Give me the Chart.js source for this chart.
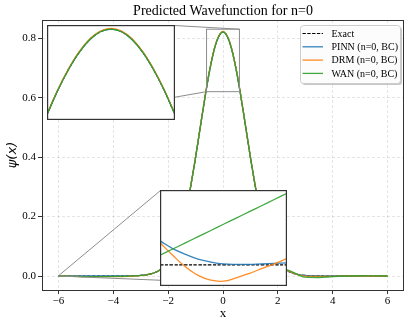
<!DOCTYPE html>
<html>
<head>
<meta charset="utf-8">
<script src="https://cdn.jsdelivr.net/npm/chart.js@4.4.0/dist/chart.umd.min.js"></script>
<style>
  body { margin: 0; background: #fff; }
  #wrap { position: relative; width: 410px; height: 327px; }
  canvas { position: absolute; }
  .inset { background: #fff; }
</style>
</head>
<body>
<div id="wrap">
  <canvas id="main" width="410" height="327" style="left:0;top:0"></canvas>
  <canvas id="zoomPeak" class="inset" width="128" height="95" style="left:47px;top:25px"></canvas>
  <canvas id="zoomEdge" class="inset" width="127" height="96" style="left:160px;top:190px"></canvas>
</div>
<script>
// ---- data ----
const labels = ['Exact', 'PINN (n=0, BC)', 'DRM (n=0, BC)', 'WAN (n=0, BC)'];

const xs = [-6, -5.5, -5, -4.5, -4, -3.5, -3, -2.75, -2.5, -2.25, -2, -1.75, -1.5, -1.25, -1, -0.75, -0.5, -0.25,
  0, 0.25, 0.5, 0.75, 1, 1.25, 1.5, 1.75, 2, 2.25, 2.5, 2.75, 3, 3.5, 4, 4.5, 5, 5.5, 6];
const exact = [0, 0, 0, 0, 0, 0.0003, 0.002, 0.005, 0.011, 0.024, 0.048, 0.092, 0.163, 0.266, 0.399, 0.547, 0.685, 0.784,
  0.821, 0.784, 0.685, 0.547, 0.399, 0.266, 0.163, 0.092, 0.048, 0.024, 0.011, 0.005, 0.002, 0.0003, 0, 0, 0, 0, 0];
const pinn = [0, 0, 0, 0, 0, 0.0003, 0.002, 0.005, 0.011, 0.024, 0.048, 0.092, 0.163, 0.266, 0.399, 0.547, 0.685, 0.784,
  0.821, 0.784, 0.685, 0.547, 0.399, 0.266, 0.163, 0.092, 0.048, 0.024, 0.011, 0.005, 0.002, 0.0003, 0, 0, 0, 0, 0];
const drm = [0, -0.001, -0.002, -0.002, -0.002, -0.001, 0.001, 0.005, 0.011, 0.024, 0.048, 0.092, 0.163, 0.267, 0.400, 0.548, 0.687, 0.786,
  0.823, 0.786, 0.687, 0.548, 0.400, 0.267, 0.163, 0.092, 0.048, 0.024, 0.012, 0.004, 0.000, -0.001, -0.001, 0, 0, 0, 0];
const wan = [0, -0.001, -0.002, -0.002, -0.0015, -0.0005, 0.002, 0.005, 0.011, 0.024, 0.048, 0.092, 0.163, 0.266, 0.399, 0.547, 0.685, 0.784,
  0.821, 0.784, 0.685, 0.547, 0.399, 0.266, 0.163, 0.092, 0.048, 0.025, 0.015, 0.004, -0.004, -0.005, -0.002, 0, 0.001, 0.0005, 0];

// zoom near the peak
const xsPeak = [-0.6, -0.5, -0.4, -0.3, -0.2, -0.1, 0, 0.1, 0.2, 0.3, 0.4, 0.5, 0.6];
const exactPeak = [0.632, 0.685, 0.731, 0.769, 0.7975, 0.815, 0.821, 0.815, 0.7975, 0.769, 0.731, 0.685, 0.632];
const pinnPeak = [0.632, 0.685, 0.731, 0.769, 0.7975, 0.815, 0.821, 0.815, 0.7975, 0.769, 0.731, 0.685, 0.632];
const drmPeak = [0.6335, 0.6865, 0.7325, 0.7705, 0.799, 0.8165, 0.8225, 0.8165, 0.799, 0.7705, 0.7325, 0.6865, 0.6335];
const wanPeak = [0.632, 0.685, 0.731, 0.769, 0.7975, 0.815, 0.821, 0.815, 0.7975, 0.769, 0.731, 0.685, 0.632];

// zoom at the left boundary x = -6
const xsEdge = [-6, -5.995, -5.99, -5.985, -5.98, -5.975, -5.97, -5.965, -5.96, -5.955, -5.95];
const exactEdge = [0, 0, 0, 0, 0, 0, 0, 0, 0, 0, 0];
const pinnEdge = [0.00025, 0.00017, 0.00011, 0.00006, 0.00003, 0.00001, 0.000005, 0.000005, 0.00001, 0.000015, 0.00002];
const drmEdge = [0.00023, 0.0001, -0.00002, -0.00011, -0.00016, -0.00017, -0.000135, -0.00009, -0.00004, 0.00001, 0.000065];
const wanEdge = [0.0001, 0.000165, 0.000229, 0.000294, 0.000358, 0.000423, 0.000487, 0.000552, 0.000616, 0.000681, 0.000745];

const peakXlim = [-0.6, 0.6], peakYlim = [0.62, 0.83];
const edgeXlim = [-6, -5.95], edgeYlim = [-0.00022, 0.00078];

const xTicks = [-6, -4, -2, 0, 2, 4, 6];
const yTicks = [0, 0.2, 0.4, 0.6, 0.8];

// ---- styles ----
const colors = ['#000000', 'rgba(31,119,180,0.9)', 'rgba(255,127,14,0.9)', 'rgba(44,160,44,0.9)'];
const serif = 'Liberation Serif';
const gridColor = 'rgba(0,0,0,0.13)';

// inset boxes in page pixels (where the inset canvases sit)
const peakBox = { left: 47, top: 25, w: 128, h: 95 };
const edgeBox = { left: 160, top: 190, w: 127, h: 96 };

function pts(x, y) {
  return x.map((v, i) => ({ x: v, y: y[i] }));
}

function makeSets(x, series, interp) {
  return series.map((s, i) => ({
    label: labels[i],
    data: pts(x, s),
    borderColor: colors[i],
    borderWidth: i == 0 ? 1.2 : 1.3,
    borderDash: i == 0 ? [3.3, 1.5] : [],
    order: 3 - i,
    pointRadius: 0,
    fill: false,
    tension: 0.4,
    cubicInterpolationMode: interp || 'monotone'
  }));
}

// frame, zoom rectangles, connector lines, title
const framePlugin = {
  id: 'frame',
  afterDatasetsDraw(chart) {
    const { ctx, chartArea: a, scales } = chart;
    const X = v => scales.x.getPixelForValue(v), Y = v => scales.y.getPixelForValue(v);
    ctx.save();
    ctx.strokeStyle = '#8c8c8c';
    ctx.lineWidth = 1;
    ctx.strokeRect(X(peakXlim[0]), Y(peakYlim[1]), X(peakXlim[1]) - X(peakXlim[0]), Y(peakYlim[0]) - Y(peakYlim[1]));
    ctx.strokeRect(X(edgeXlim[0]), Y(edgeYlim[1]), X(edgeXlim[1]) - X(edgeXlim[0]), Y(edgeYlim[0]) - Y(edgeYlim[1]));
    ctx.beginPath();
    ctx.moveTo(X(peakXlim[1]), Y(peakYlim[1]));
    ctx.lineTo(peakBox.left + peakBox.w - 0.5, peakBox.top + 0.5);
    ctx.moveTo(X(peakXlim[0]), Y(peakYlim[0]));
    ctx.lineTo(peakBox.left + 0.5, peakBox.top + peakBox.h - 0.5);
    ctx.moveTo(X(edgeXlim[0]), Y(edgeYlim[1]));
    ctx.lineTo(edgeBox.left + 0.5, edgeBox.top + 0.5);
    ctx.moveTo(X(edgeXlim[1]), Y(edgeYlim[0]));
    ctx.lineTo(edgeBox.left + edgeBox.w - 0.5, edgeBox.top + edgeBox.h - 0.5);
    ctx.stroke();
    // axes frame
    ctx.strokeStyle = '#333';
    ctx.strokeRect(Math.round(a.left) + 0.5, Math.round(a.top) + 0.5, Math.round(a.width) - 1, Math.round(a.height));
    // title
    ctx.fillStyle = '#000';
    ctx.font = '14px "' + serif + '"';
    ctx.textAlign = 'center';
    ctx.textBaseline = 'middle';
    ctx.fillText('Predicted Wavefunction for n=0', (a.left + a.right) / 2, 11);
    ctx.restore();
  }
};

// matplotlib-like legend in the upper right
const legendPlugin = {
  id: 'mplLegend',
  afterDraw(chart) {
    const ctx = chart.ctx;
    const x = 300, y = 25, w = 100, h = 58;
    ctx.save();
    ctx.fillStyle = 'rgba(0,0,0,0.22)';
    ctx.beginPath(); ctx.roundRect(x + 2, y + 2, w, h, 3); ctx.fill();
    ctx.fillStyle = 'rgba(255,255,255,0.95)';
    ctx.strokeStyle = '#cccccc';
    ctx.lineWidth = 1;
    ctx.beginPath(); ctx.roundRect(x + 0.5, y + 0.5, w, h, 3); ctx.fill(); ctx.stroke();
    ctx.font = '10px "' + serif + '"';
    ctx.textBaseline = 'middle';
    ctx.textAlign = 'left';
    chart.data.datasets.forEach((ds, i) => {
      const ry = y + 8.5 + i * 13.3;
      ctx.strokeStyle = ds.borderColor;
      ctx.lineWidth = ds.borderWidth;
      ctx.setLineDash(ds.borderDash);
      ctx.beginPath(); ctx.moveTo(x + 2.5, ry); ctx.lineTo(x + 23, ry); ctx.stroke();
      ctx.setLineDash([]);
      ctx.fillStyle = '#000';
      ctx.fillText(ds.label, x + 31.5, ry + 0.5);
    });
    ctx.restore();
  }
};

const insetBorder = {
  id: 'insetBorder',
  afterDraw(chart) {
    const ctx = chart.ctx;
    ctx.save();
    ctx.strokeStyle = '#333';
    ctx.lineWidth = 1.2;
    ctx.strokeRect(0.6, 0.6, chart.width - 1.2, chart.height - 1.2);
    ctx.restore();
  }
};

const tickFont = { family: serif, size: 11 };

new Chart(document.getElementById('main'), {
  type: 'line',
  data: { datasets: makeSets(xs, [exact, pinn, drm, wan]) },
  options: {
    responsive: false,
    animation: false,
    layout: { padding: { top: 20, right: 6 } },
    plugins: { legend: { display: false }, tooltip: { enabled: false }, title: { display: false } },
    scales: {
      x: {
        type: 'linear', min: -6.6, max: 6.6,
        afterBuildTicks: s => { s.ticks = xTicks.map(v => ({ value: v })); },
        afterFit: s => { s.height = 37; },
        ticks: { autoSkip: false, maxRotation: 0, padding: 1, color: '#000', font: tickFont,
          callback: v => v < 0 ? '\u2212' + Math.abs(v) : String(v) },
        grid: { color: gridColor, lineWidth: 0.8, tickLength: 4, tickColor: '#333', tickWidth: 1, tickBorderDash: [] },
        border: { display: false, dash: [3, 2] },
        title: { display: true, text: 'x', color: '#000', font: { family: serif, size: 13 }, padding: { top: 0, bottom: 6 } }
      },
      y: {
        type: 'linear', min: -0.047, max: 0.861,
        afterBuildTicks: s => { s.ticks = yTicks.map(v => ({ value: v })); },
        afterFit: s => { s.width = 42; },
        ticks: { autoSkip: false, padding: 2, color: '#000', font: tickFont, callback: v => v.toFixed(1) },
        grid: { color: gridColor, lineWidth: 0.8, tickLength: 4, tickColor: '#333', tickWidth: 1, tickBorderDash: [] },
        border: { display: false, dash: [3, 2] },
        title: { display: true, text: 'ψ(x)', color: '#000', font: { family: 'DejaVu Sans', size: 13, style: 'italic' }, padding: { top: 5, bottom: 0 } }
      }
    }
  },
  plugins: [framePlugin, legendPlugin]
});

function insetChart(id, x, series, xlim, ylim, interp) {
  return new Chart(document.getElementById(id), {
    type: 'line',
    data: { datasets: makeSets(x, series, interp) },
    options: {
      responsive: false,
      animation: false,
      layout: { padding: 0 },
      plugins: { legend: { display: false }, tooltip: { enabled: false } },
      scales: {
        x: { type: 'linear', display: false, min: xlim[0], max: xlim[1] },
        y: { type: 'linear', display: false, min: ylim[0], max: ylim[1] }
      }
    },
    plugins: [insetBorder]
  });
}

insetChart('zoomPeak', xsPeak, [exactPeak, pinnPeak, drmPeak, wanPeak], peakXlim, peakYlim);
insetChart('zoomEdge', xsEdge, [exactEdge, pinnEdge, drmEdge, wanEdge], edgeXlim, edgeYlim, 'default');
</script>
</body>
</html>
